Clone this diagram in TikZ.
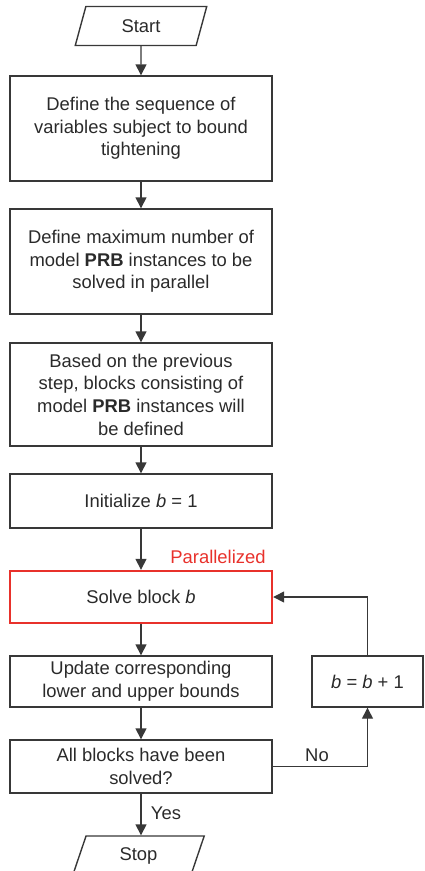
\documentclass[tikz,border=0pt]{standalone}
\usepackage{fontspec}
\setmainfont{Liberation Sans}
\usetikzlibrary{arrows.meta,shapes.geometric}
\definecolor{ink}{HTML}{2A2A2A}
\definecolor{edge}{HTML}{383838}
\definecolor{hot}{HTML}{E8312B}

\begin{document}
\begin{tikzpicture}[x=1pt,y=-1pt,
  every node/.style={font=\fontsize{18.4}{22.7}\selectfont, text=ink},
  stepbox/.style={draw=edge, line width=1.4pt, minimum width=262pt, align=center, inner sep=0pt},
  io/.style={trapezium, trapezium left angle=74, trapezium right angle=106,
    trapezium stretches=true, draw=edge, line width=1.4pt,
    minimum width=132pt, minimum height=39pt, inner sep=0pt},
  flow/.style={draw=edge, line width=1.4pt, -{Triangle[length=11pt,width=11pt]}},
  tag/.style={inner sep=0pt},
]
\useasboundingbox (0,0) rectangle (424,871);

% main chain of steps
\node[io] (start) at (141,26) {Start};
\node[stepbox, minimum height=105pt] (s1) at (141,128.5)
  {Define the sequence of\\variables subject to bound\\tightening};
\node[stepbox, minimum height=105pt] (s2) at (141,261.5)
  {Define maximum number of\\model \textbf{PRB} instances to be\\solved in parallel};
\node[stepbox, minimum height=103pt] (s3) at (141,394.5)
  {Based on the previous\\step, blocks consisting of\\model \textbf{PRB} instances will\\be defined};
\node[stepbox, minimum height=54pt] (s4) at (141,501) {Initialize \textit{b} = 1};
\node[stepbox, draw=hot, line width=2.4pt, minimum height=52pt] (s5) at (141,597)
  {Solve block \textit{b}};
\node[stepbox, minimum height=51pt] (s6) at (141,681.5)
  {Update corresponding\\lower and upper bounds};
\node[stepbox, minimum height=53pt] (s7) at (141,766.5)
  {All blocks have been\\solved?};
\node[io] (stop) at (138.5,855.5) {Stop};

% counter increment
\node[stepbox, minimum width=111pt, minimum height=51pt] (bnext) at (367.5,681.5)
  {\textit{b} = \textit{b} + 1};

% labels
\node[tag, text=hot] (par) at (218,557) {Parallelized};
\node[tag] (no) at (317,755) {No};
\node[tag] (yes) at (166,813) {Yes};

% connectors
\draw[flow] (start) -- (s1);
\draw[flow] (s1) -- (s2);
\draw[flow] (s2) -- (s3);
\draw[flow] (s3) -- (s4);
\draw[flow] (s4) -- (s5);
\draw[flow] (s5) -- (s6);
\draw[flow] (s6) -- (s7);
\draw[flow] (s7.south) -- (s7.south |- stop.north);
\draw[flow] (s7.east) -| (bnext.south);
\draw[flow] (bnext.north) |- (s5.east);
\end{tikzpicture}
\end{document}
